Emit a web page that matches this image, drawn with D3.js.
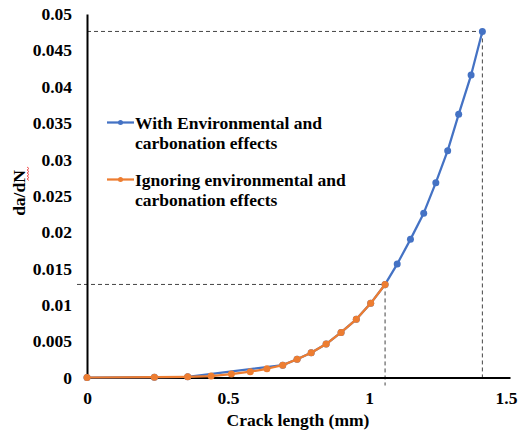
<!DOCTYPE html>
<html>
<head>
<meta charset="utf-8">
<script src="https://cdn.jsdelivr.net/npm/d3@7"></script>
<style>
  body { margin: 0; background: #fff; }
  text { font-family: 'Liberation Serif', 'Times New Roman', serif; font-weight: bold; }
</style>
</head>
<body>
<div id="chart"></div>
<script>
// crack length (mm) and da/dN
const withEnvX = [0, 0.239, 0.357, 0.694, 0.745, 0.795, 0.848, 0.901, 0.955, 1.006, 1.057,
  1.100, 1.147, 1.194, 1.237, 1.279, 1.318, 1.362, 1.402];
const withEnvY = [0, 0.00005, 0.0001, 0.0017, 0.0025, 0.0034, 0.0046, 0.0062, 0.0080, 0.0102, 0.0128,
  0.0156, 0.0190, 0.0226, 0.0268, 0.0312, 0.0362, 0.0416, 0.0476];
const ignoringX = [0, 0.239, 0.357, 0.440, 0.512, 0.579, 0.638, 0.694, 0.745, 0.795, 0.848,
  0.901, 0.955, 1.006, 1.057];
const ignoringY = [0, 0.00005, 0.0001, 0.0002, 0.00048, 0.0008, 0.0012, 0.0017, 0.0025, 0.0034, 0.0046,
  0.0062, 0.0080, 0.0102, 0.0128];
const xTicks = [0, 0.5, 1, 1.5];
const yTicks = [0, 0.005, 0.01, 0.015, 0.02, 0.025, 0.03, 0.035, 0.04, 0.045, 0.05];
// dashed guide lines: [x, y] of the two marked points
const guides = [[1.057, 0.0128], [1.402, 0.0476]];
const legendLabels = [
  ['With Environmental and', 'carbonation effects'],
  ['Ignoring environmental and', 'carbonation effects'],
];

const W = 523, H = 434;
const margin = { top: 14, right: 13, bottom: 56.5, left: 87 };
const colors = ['#4472C4', '#ED7D31'];
const fs = 17.5;

const svg = d3.select('#chart').append('svg')
  .attr('width', W).attr('height', H);

const x = d3.scaleLinear().domain([0, 1.5]).range([margin.left, W - margin.right]);
const y = d3.scaleLinear().domain([0, 0.05]).range([H - margin.bottom, margin.top]);

// dashed guides
const dash = svg.append('g')
  .attr('stroke', '#444').attr('stroke-width', 1).attr('stroke-dasharray', '4,3').attr('fill', 'none');
dash.append('line')
  .attr('x1', x(0) - 10).attr('x2', x(guides[0][0]))
  .attr('y1', y(guides[0][1])).attr('y2', y(guides[0][1]));
dash.append('line')
  .attr('x1', x(guides[0][0])).attr('x2', x(guides[0][0]))
  .attr('y1', y(guides[0][1])).attr('y2', y(0) + 8);
dash.append('line')
  .attr('x1', x(0)).attr('x2', x(guides[1][0]))
  .attr('y1', y(guides[1][1])).attr('y2', y(guides[1][1]));
dash.append('line')
  .attr('x1', x(guides[1][0])).attr('x2', x(guides[1][0]))
  .attr('y1', y(guides[1][1])).attr('y2', y(0));

// axes
const xAxis = svg.append('g')
  .attr('transform', `translate(0,${y(0)})`)
  .call(d3.axisBottom(x).tickValues(xTicks).tickSize(0).tickPadding(14).tickFormat(d3.format('')));
xAxis.select('.domain').attr('stroke', '#000').attr('stroke-width', 2);
xAxis.selectAll('text').attr('font-size', fs).attr('fill', '#000')
  .attr('font-family', "'Liberation Serif', serif").attr('font-weight', 'bold');
xAxis.selectAll('.tick').filter((d) => d === 1.5).select('text').attr('dx', -4);

const yAxis = svg.append('g')
  .attr('transform', `translate(${x(0)},0)`)
  .call(d3.axisLeft(y).tickValues(yTicks).tickSize(0).tickPadding(15).tickFormat(d3.format('')));
yAxis.select('.domain').attr('stroke', '#000').attr('stroke-width', 2);
yAxis.selectAll('text').attr('font-size', fs).attr('fill', '#000')
  .attr('font-family', "'Liberation Serif', serif").attr('font-weight', 'bold');

// series
const series = [
  { xs: withEnvX, ys: withEnvY, color: colors[0] },
  { xs: ignoringX, ys: ignoringY, color: colors[1] },
];
const line = d3.line().x((d) => x(d[0])).y((d) => y(d[1]));
series.forEach((s) => {
  const pts = s.xs.map((v, i) => [v, s.ys[i]]);
  svg.append('path').datum(pts)
    .attr('d', line).attr('fill', 'none')
    .attr('stroke', s.color).attr('stroke-width', 2.25).attr('stroke-linejoin', 'round');
  svg.append('g').selectAll('circle').data(pts).enter().append('circle')
    .attr('cx', (d) => x(d[0])).attr('cy', (d) => y(d[1]))
    .attr('r', 3.5).attr('fill', s.color);
});

// legend
const legend = svg.append('g');
legendLabels.forEach((lbl, i) => {
  const ly = 122.5 + i * 57;
  legend.append('line')
    .attr('x1', 107).attr('x2', 134).attr('y1', ly).attr('y2', ly)
    .attr('stroke', colors[i]).attr('stroke-width', 2.25);
  legend.append('circle').attr('cx', 120.5).attr('cy', ly).attr('r', 2.5).attr('fill', colors[i]);
  lbl.forEach((t, j) => {
    legend.append('text')
      .attr('x', 135).attr('y', ly + 6 + j * 20.5)
      .attr('font-size', fs).attr('fill', '#000')
      .text(t);
  });
});

// axis titles
svg.append('text')
  .attr('x', 298).attr('y', 426)
  .attr('text-anchor', 'middle').attr('font-size', fs).attr('fill', '#000')
  .text('Crack length (mm)');
svg.append('text')
  .attr('transform', 'translate(25,193) rotate(-90)')
  .attr('text-anchor', 'middle').attr('font-size', fs).attr('fill', '#000')
  .text('da/dN');
// spell-check squiggle next to "dN"
const sq = d3.range(0, 15, 1.5).map((v, i) => [i % 2 ? 29 : 27, 167 + v]);
svg.append('path').datum(sq)
  .attr('d', d3.line()).attr('fill', 'none').attr('stroke', '#e33').attr('stroke-width', 0.8);
</script>
</body>
</html>
